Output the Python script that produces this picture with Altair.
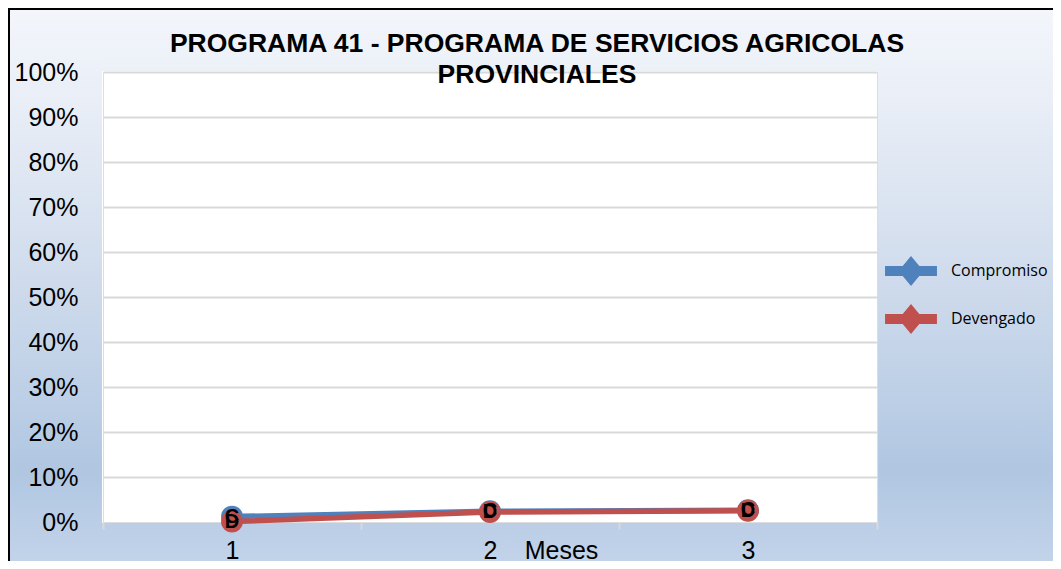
import altair as alt
import pandas as pd

# ---------------- data ----------------
meses = ["1", "2", "3"]
series = ["Compromiso", "Devengado"]
compromiso = [0.012, 0.024, 0.026]
devengado = [0.001, 0.022, 0.025]
etiquetas = ["C", "D"]
colores = ["#4f81bd", "#c0504d"]
y_ticks = [0, 0.1, 0.2, 0.3, 0.4, 0.5, 0.6, 0.7, 0.8, 0.9, 1.0]
titulo = ["PROGRAMA 41 - PROGRAMA DE SERVICIOS AGRICOLAS", "PROVINCIALES"]
eje_x = "Meses"

rows = []
for s, vals, lab in zip(series, [compromiso, devengado], etiquetas):
    for m, v in zip(meses, vals):
        rows.append({"mes": m, "serie": s, "valor": v, "etiqueta": lab})
df = pd.DataFrame(rows)

# ---------------- layout ----------------
W, H = 774, 450
PL, PT, PR, PB = 95, 64, 176, 39
FONT = "Liberation Sans"

# background gradient (page y -> colour)
grad_stops = [
    (0, "#f4f7fb"), (100, "#e9eef7"), (200, "#dbe4f1"), (300, "#ccd9eb"),
    (400, "#bccfe6"), (470, "#b0c6e1"), (530, "#bccfe7"), (575, "#c5d5ea"),
]


def _hex(c):
    return [int(c[i:i + 2], 16) for i in (1, 3, 5)]


def col_at(y):
    for (y0, c0), (y1, c1) in zip(grad_stops[:-1], grad_stops[1:]):
        if y0 <= y <= y1:
            t = (y - y0) / (y1 - y0)
            a, b = _hex(c0), _hex(c1)
            return "#" + "".join(f"{round(a[i] + (b[i] - a[i]) * t):02x}" for i in range(3))
    return grad_stops[-1][1] if y > grad_stops[-1][0] else grad_stops[0][1]


def gradient(py0, py1):
    stops = [alt.GradientStop(offset=0, color=col_at(py0))]
    for y, c in grad_stops:
        if py0 < y < py1:
            stops.append(alt.GradientStop(offset=(y - py0) / (py1 - py0), color=c))
    stops.append(alt.GradientStop(offset=1, color=col_at(py1)))
    return alt.LinearGradient(gradient="linear", stops=stops, x1=0, x2=0, y1=0, y2=1)


one = pd.DataFrame({"k": [0]})
page_y = lambda v: v + 8 + PT  # plot y -> page y


def strip(x0, x1, y0, y1):
    return alt.Chart(one).mark_rect(fill=gradient(page_y(y0), page_y(y1)), strokeWidth=0).encode(
        x=alt.value(x0), x2=alt.value(x1), y=alt.value(y0), y2=alt.value(y1)
    )


top_ext, bot_ext = -PT, H + PB + 10
decor = [
    strip(-PL - 5, -1, top_ext, bot_ext),
    strip(W + 1, W + PR + 10, top_ext, bot_ext),
    strip(-1, W + 1, top_ext, -1),
    strip(-1, W + 1, H + 1, bot_ext),
    alt.Chart(one).mark_rect(fillOpacity=0, stroke="black", strokeWidth=2).encode(
        x=alt.value(-PL + 1), x2=alt.value(W + PR + 50), y=alt.value(-PT + 1), y2=alt.value(H + PB + 50)
    ),
]

x_enc = alt.X(
    "mes:N",
    sort=meses,
    scale=alt.Scale(type="band", paddingInner=0, paddingOuter=0),
    axis=alt.Axis(
        title=eje_x, titleX=458, titleY=16, titleBaseline="top", titleAlign="center",
        titleFont=FONT, titleFontSize=25, titleFontWeight="normal", titleColor="black",
        labelFont=FONT, labelFontSize=25, labelColor="black", labelAngle=0,
        labelPadding=9, labelBaseline="top",
        tickSize=7, tickColor="#d9d9d9", tickWidth=2, tickBand="extent",
        domain=False, grid=False, zindex=1,
    ),
)
y_enc = alt.Y(
    "valor:Q",
    scale=alt.Scale(domain=[0, 1], nice=False),
    axis=alt.Axis(
        title=None, values=y_ticks, format=".0%",
        labelFont=FONT, labelFontSize=25, labelColor="black", labelPadding=25,
        labelFlush=False, labelOverlap=False,
        ticks=False, domain=False,
        gridColor="#d9d9d9", gridWidth=2,
        gridOpacity={"condition": {"test": "datum.value === 0", "value": 0}, "value": 1},
        zindex=1,
    ),
)

path_c = "M-1.73,-0.33H1.73V0.33H-1.73ZM0,-1L0.83,0L0,1L-0.83,0Z"
legend = alt.Legend(
    orient="none", legendX=793, legendY=184, title=None, padding=0, rowPadding=18,
    labelOffset=25, labelFont="Open Sans", labelFontSize=16, labelColor="black",
    symbolType=path_c, symbolSize=900, symbolStrokeWidth=0, symbolOpacity=1,
    labelLimit=300, zindex=1,
)
color_scale = alt.Scale(domain=series, range=colores)

lines = alt.Chart(df).mark_line(strokeWidth=5.5).encode(
    x=x_enc, y=y_enc, color=alt.Color("serie:N", scale=color_scale, legend=legend), detail="serie:N"
)
points = alt.Chart(df).mark_circle(size=480, opacity=1).encode(
    x=x_enc, y=y_enc, color=alt.Color("serie:N", scale=color_scale, legend=legend)
)
labels = alt.Chart(df).mark_text(
    font=FONT, fontSize=20, fontWeight="bold", color="black", align="center", baseline="middle"
).encode(x=x_enc, y=y_enc, text="etiqueta:N")

chart = alt.layer(*decor, lines, points, labels).properties(
    width=W, height=H,
    autosize=alt.AutoSizeParams(type="none"),
    padding={"left": PL, "top": PT, "right": PR, "bottom": PB},
    title=alt.TitleParams(
        text=titulo, font=FONT, fontSize=26.5, fontWeight="bold", color="black",
        anchor="middle", frame="group", dx=47, offset=-101, lineHeight=31, baseline="alphabetic",
        zindex=1,
    ),
).configure_view(stroke="#bfbfbf", strokeWidth=2.5, fill="white").configure(background="white")

chart.save("out.html", embed_options={"renderer": "svg", "actions": False})
